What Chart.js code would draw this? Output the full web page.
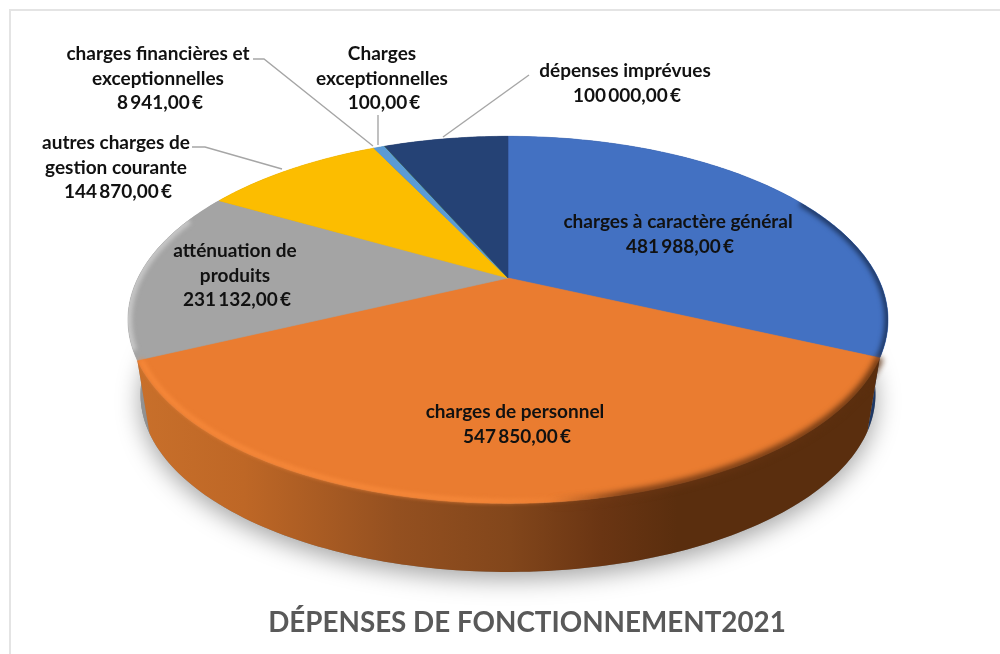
<!DOCTYPE html>
<html lang="fr">
<head>
<meta charset="utf-8">
<title>Dépenses de fonctionnement 2021</title>
<style>
  html, body { margin: 0; padding: 0; background: #fff; }
  canvas { display: block; }
</style>
<script src="https://cdn.jsdelivr.net/npm/chart.js@4/dist/chart.umd.min.js"></script>
</head>
<body>
<canvas id="pie" width="1000" height="654"></canvas>
<script>
const categories = [
  "charges à caractère général",
  "charges de personnel",
  "atténuation de produits",
  "autres charges de gestion courante",
  "charges financières et exceptionnelles",
  "Charges exceptionnelles",
  "dépenses imprévues",
];
const values = [481988, 547850, 231132, 144870, 8941, 100, 100000];
const colors = ["#4371C2", "#EA7C30", "#A4A4A4", "#FCBD00", "#5B9BD5", "#70AD47", "#254275"];
const labelLines = [
  ["charges à caractère général"],
  ["charges de personnel"],
  ["atténuation de", "produits"],
  ["autres charges de", "gestion courante"],
  ["charges financières et", "exceptionnelles"],
  ["Charges", "exceptionnelles"],
  ["dépenses imprévues"],
];
const chartTitle = "DÉPENSES DE FONCTIONNEMENT2021";

// where the text block of each slice sits (center x, first baseline y)
const labelPos = [
  [678, 228], [515, 418], [235, 257], [116, 149], [158, 60], [382, 60], [625, 77],
];
const leaders = [
  [[253, 59], [264, 59], [373, 146]],
  [[378, 115], [378, 145]],
  [[529, 75], [443, 137]],
  [[192, 147], [205, 147], [282, 169]],
];

// projection of the flat pie onto the tilted disc
const cx = 508, cy = 278, R = 370, H = 174, P = 0.228;
const depth = 76, shrink = 0.967;

function project(a, k, dy) {
  const u = Math.cos(a), v = Math.sin(a);
  const w = 1 - P * v;
  return [cx + R * k * u / w, cy + (dy || 0) + H * k * v / w];
}

function rim(ctx, a0, a1, k, dy, first) {
  const n = Math.max(2, Math.ceil(Math.abs(a1 - a0) / 0.01));
  for (let i = 0; i <= n; i++) {
    const p = project(a0 + (a1 - a0) * i / n, k, dy);
    if (i === 0 && first) ctx.moveTo(p[0], p[1]);
    else ctx.lineTo(p[0], p[1]);
  }
}

// wall as a run of small quads, so the outline follows the tangent between both rims
function wall(ctx, a0, a1) {
  const n = Math.max(2, Math.ceil((a1 - a0) / 0.02));
  ctx.beginPath();
  for (let i = 0; i < n; i++) {
    const s = a0 + (a1 - a0) * i / n, e = a0 + (a1 - a0) * (i + 1) / n;
    const q = [project(s, 1, 0), project(e, 1, 0), project(e, shrink, depth), project(s, shrink, depth)];
    ctx.moveTo(q[0][0], q[0][1]);
    ctx.lineTo(q[1][0], q[1][1]);
    ctx.lineTo(q[2][0], q[2][1]);
    ctx.lineTo(q[3][0], q[3][1]);
    ctx.closePath();
  }
  ctx.fill();
}

function fmtEuro(v) {
  const s = String(v).replace(/\B(?=(\d{3})+$)/g, " ");
  return s + ",00 €";
}

function hGrad(ctx, stops) {
  const g = ctx.createLinearGradient(130, 0, 890, 0);
  stops.forEach(s => g.addColorStop(s[0], s[1]));
  return g;
}

function softRim(ctx, a0, a1, k, width, blur, style) {
  ctx.save();
  ctx.filter = `blur(${blur}px)`;
  ctx.strokeStyle = style;
  ctx.lineWidth = width;
  ctx.beginPath();
  rim(ctx, a0, a1, k, 0, true);
  ctx.stroke();
  ctx.restore();
}

const tiltedPie = {
  id: "tiltedPie",
  beforeDatasetsDraw(chart) {
    const ctx = chart.ctx;
    const arcs = chart.getDatasetMeta(0).data;
    ctx.save();

    // soft shadow under the disc
    ctx.save();
    ctx.shadowColor = "rgba(0,0,0,0.36)";
    ctx.shadowBlur = 24;
    ctx.shadowOffsetY = 7;
    ctx.fillStyle = "#888";
    ctx.beginPath();
    rim(ctx, 0, Math.PI * 2, shrink, depth, true);
    ctx.closePath();
    ctx.fill();
    ctx.restore();

    // side walls, orange last since it is in front
    const wallFills = [
      "#1F3864",
      hGrad(ctx, [[0, "#C9702B"], [0.15, "#BE6726"], [0.35, "#945020"], [0.5, "#82461B"], [0.62, "#6A3513"], [0.72, "#5A2E0E"], [1, "#5A2E0E"]]),
      hGrad(ctx, [[0, "#9A9A9A"], [0.03, "#8C8C8C"], [1, "#8C8C8C"]]),
      "#A87F00", "#3C6E9C", "#4E7A31", "#1A2F55",
    ];
    [6, 5, 4, 3, 0, 2, 1].forEach(i => {
      const a = arcs[i];
      ctx.fillStyle = wallFills[i];
      wall(ctx, a.startAngle, a.endAngle);
    });

    // top faces, angles as the library computed them
    arcs.forEach((a, i) => {
      ctx.fillStyle = colors[i];
      ctx.strokeStyle = colors[i];
      ctx.lineWidth = 0.6;
      ctx.beginPath();
      ctx.moveTo(cx, cy);
      rim(ctx, a.startAngle, a.endAngle, 1, 0, false);
      ctx.closePath();
      ctx.fill();
      ctx.stroke();
    });

    // bevel along the rim
    const orange = arcs[1], blue = arcs[0], grey = arcs[2];
    ctx.save();
    ctx.beginPath();
    rim(ctx, 0, Math.PI * 2, 1, 0, true);
    ctx.closePath();
    ctx.clip();
    softRim(ctx, grey.startAngle + 0.05, grey.endAngle - 0.15, 1, 8, 2, "#C6C6C6");
    softRim(ctx, -0.5, blue.endAngle, 1, 7, 2.5, "#1F3864");
    ctx.restore();
    softRim(ctx, orange.startAngle, orange.endAngle, 1, 7, 3, hGrad(ctx, [[0, "rgba(90,46,14,0)"], [0.55, "rgba(130,70,27,0)"], [0.65, "#6A3513"], [1, "#5A2E0E"]]));
    softRim(ctx, orange.startAngle, orange.endAngle, 0.99, 4, 2.2, hGrad(ctx, [[0, "#F88A3B"], [0.45, "#F88A3B"], [0.62, "rgba(248,138,59,0)"], [1, "rgba(248,138,59,0)"]]));

    ctx.restore();
    return false;
  },
  afterDraw(chart) {
    const ctx = chart.ctx;
    ctx.save();

    // frame
    ctx.strokeStyle = "#E4E4E4";
    ctx.lineWidth = 2;
    ctx.beginPath();
    ctx.moveTo(10, 654);
    ctx.lineTo(10, 10);
    ctx.lineTo(1000, 10);
    ctx.stroke();

    // leader lines
    ctx.strokeStyle = "#A6A6A6";
    ctx.lineWidth = 1.4;
    leaders.forEach(line => {
      ctx.beginPath();
      line.forEach((p, i) => i ? ctx.lineTo(p[0], p[1]) : ctx.moveTo(p[0], p[1]));
      ctx.stroke();
    });

    // slice labels
    ctx.fillStyle = "#111";
    ctx.textAlign = "center";
    ctx.textBaseline = "alphabetic";
    ctx.font = "bold 19px Lato";
    labelLines.forEach((lines, i) => {
      const x = labelPos[i][0];
      let y = labelPos[i][1];
      ctx.wordSpacing = "0px";
      lines.forEach(t => {
        ctx.fillText(t, x, y);
        y += 24.5;
      });
      ctx.wordSpacing = "-2.5px";
      ctx.fillText(fmtEuro(values[i]), x + 2, y);
    });
    ctx.wordSpacing = "0px";

    // title
    ctx.fillStyle = "#595959";
    ctx.font = "bold 27.8px Lato";
    ctx.fillText(chartTitle, 527, 632);
    ctx.restore();
  },
};

new Chart(document.getElementById("pie"), {
  type: "pie",
  data: {
    labels: categories,
    datasets: [{ data: values, backgroundColor: colors, borderWidth: 0 }],
  },
  options: {
    responsive: false,
    animation: false,
    plugins: {
      legend: { display: false },
      title: { display: false },
      tooltip: { enabled: false },
    },
  },
  plugins: [tiltedPie],
});
</script>
</body>
</html>
